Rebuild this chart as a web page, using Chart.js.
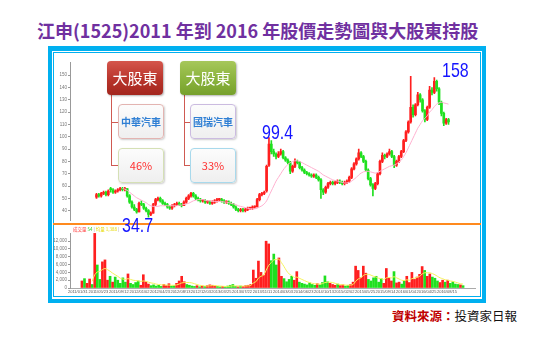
<!DOCTYPE html>
<html>
<head>
<meta charset="utf-8">
<title>江申(1525)股價走勢圖</title>
<script src="https://cdn.jsdelivr.net/npm/chart.js@4.4.1/dist/chart.umd.min.js"></script>
<style>
  body { margin:0; width:542px; height:344px; overflow:hidden; background:#fff; position:relative;
         font-family:"Noto Sans CJK TC","Noto Sans",sans-serif; }
  .abs { position:absolute; }
  #title { left:37px; top:19px; font-size:18px; line-height:22px; color:#7030a0; font-weight:bold; white-space:nowrap; }
  #frame { left:48px; top:46px; width:438px; height:257px; box-sizing:border-box; border:4px solid #00b0f0; border-top-width:5px; }
  #inner { left:53px; top:52px; width:428px; height:245px; box-sizing:border-box; border:1px solid #00b0f0; }
  canvas { position:absolute; }
  #sep { left:53px; top:223px; width:428px; height:2px; background:#ff8a1e; }
  .head { width:56px; height:34px; border-radius:4px; color:#fff; font-size:15px; line-height:34px; text-align:center; box-shadow:1px 1px 2px rgba(0,0,0,.3); }
  .red { background:linear-gradient(#d4564c,#b8342b 55%,#a3261e); }
  .green { background:linear-gradient(#a6c75a,#8ab33d 55%,#76a02c); }
  .card { width:46px; height:35px; box-sizing:border-box; border-radius:4px; background:linear-gradient(#fcfcfc,#efefef); text-align:center; line-height:33px; box-shadow:1px 1px 2px rgba(0,0,0,.2); }
  .name { color:#2f7fd4; font-size:10px; font-weight:bold; }
  .pct { color:#ff3030; font-size:11px; }
  .ln { background:#cf5a52; }
  .big { font-family:"Liberation Sans","DejaVu Sans",sans-serif; font-size:21px; color:#1414ff; line-height:21px;
         transform:scaleX(0.76); transform-origin:0 0; white-space:nowrap; }
  #src { left:392px; top:308px; font-size:12.5px; line-height:16px; white-space:nowrap; }
</style>
</head>
<body>
<div id="title" class="abs">江申(1525)2011 年到 2016 年股價走勢圖與大股東持股</div>
<div id="frame" class="abs"></div>
<div id="inner" class="abs"></div>
<canvas id="priceChart" width="428" height="173" style="left:53px;top:51px"></canvas>
<canvas id="volChart" width="428" height="74" style="left:53px;top:224px"></canvas>
<div id="sep" class="abs"></div>

<!-- 大股東 -->
<div class="abs ln" style="left:111px;top:95px;width:1px;height:70px"></div>
<div class="abs ln" style="left:111px;top:122px;width:7px;height:1px"></div>
<div class="abs ln" style="left:111px;top:165px;width:7px;height:1px"></div>
<div class="abs ln" style="left:184px;top:95px;width:1px;height:70px"></div>
<div class="abs ln" style="left:184px;top:122px;width:6px;height:1px"></div>
<div class="abs ln" style="left:184px;top:165px;width:6px;height:1px"></div>
<div class="abs head red" style="left:107px;top:61px">大股東</div>
<div class="abs head green" style="left:180px;top:61px">大股東</div>
<div class="abs card name" style="left:118px;top:104px;border:1px solid #e3b4b1">中華汽車</div>
<div class="abs card pct" style="left:118px;top:148px;border:1px solid #d5e0b5">46%</div>
<div class="abs card name" style="left:190px;top:104px;border:1px solid #cbbbe0">國瑞汽車</div>
<div class="abs card pct" style="left:190px;top:148px;border:1px solid #a8d9ec">33%</div>

<div class="abs big" style="left:262px;top:121px">99.4</div>
<div class="abs big" style="left:442px;top:59px">158</div>
<div class="abs big" style="left:122px;top:214px">34.7</div>

<div id="src" class="abs"><span style="color:#c00000;font-weight:bold">資料來源：</span><span style="color:#111">投資家日報</span></div>

<script>
// 江申 股價 (雙週 K 線)
const opens = [51,53,52,54,55,53,58,57,55,56, 57,58,57,58,52,47,43,41,39,46, 45,42,40,37,38,45,49,50,48,46,
  45,43,42,44,45,46,45,44,47,50, 52,54,52,50,49,48,48,47,47,46, 47,48,49,49,48,47,47,46,45,43,
  41,40,41,40,41,42,42,43,43,49, 53,54,56,77,94,88,86,84,86,88, 83,81,79,72,76,80,79,75,73,71,
  70,69,68,69,67,65,57,55,59,62, 63,62,63,64,63,62,63,64,67,74, 78,82,87,84,80,73,66,61,58,62,
  70,80,85,84,86,88,84,77,80,84, 88,97,104,112,124,118,126,134,130,121, 114,124,138,136,145,139,128,119,111,114];
const highs = [54,54,55,56,56,57,59,58,57,58, 59,59,59,58,53,48,45,42,47,48, 46,43,41,39,46,50,51,51,49,47,
  46,44,45,46,47,47,46,48,51,53, 55,55,53,51,50,49,49,48,48,48, 49,50,50,50,49,48,48,47,46,44,
  42,42,42,42,43,43,44,44,50,54, 55,56,77,99.4,97,90,87,88,90,89, 84,82,80,77,82,81,80,76,74,72,
  71,70,70,70,68,66,58,60,63,64, 64,64,65,65,64,64,65,68,75,79, 83,90,88,85,81,74,67,62,63,71,
  81,87,86,87,90,89,85,81,85,89, 98,105,113,149,126,127,136,135,131,122, 125,141,140,148,146,140,129,120,115,115];
const lows = [50,51,51,53,52,52,55,54,54,55, 56,56,56,51,46,42,40,38,39,44, 41,39,34.7,36,38,44,48,47,45,44,
  42,41,41,43,44,44,43,44,46,49, 51,51,49,48,47,47,46,46,45,45, 46,47,48,47,46,46,45,44,42,40,
  39,39,39,39,40,41,41,42,43,48, 52,53,55,76,86,84,82,83,85,82, 80,78,70,71,75,78,74,72,70,69,
  68,67,67,66,64,50,53,54,58,61, 61,61,62,62,61,61,62,63,66,73, 77,81,83,79,72,65,60,52,57,61,
  69,79,82,83,85,83,75,76,79,83, 87,96,103,111,116,117,125,128,120,112, 113,123,134,135,137,126,117,109,110,110];
const closes = [53,52,54,55,53,56,57,55,56,57, 58,57,58,52,47,43,41,39,46,45, 42,40,37,38,45,49,50,48,46,45,
  43,42,44,45,46,45,44,47,50,52, 54,52,50,49,48,48,47,47,46,47, 48,49,49,48,47,47,46,45,43,41,
  40,41,40,41,42,42,43,43,49,53, 54,55,76,94,88,86,84,86,88,83, 81,79,72,76,80,79,75,73,71,70,
  69,68,69,67,65,57,55,59,62,63, 62,63,64,63,62,63,64,67,74,78, 82,87,84,80,73,66,61,58,62,70,
  80,85,84,86,88,84,77,80,84,88, 97,104,112,124,118,126,134,130,121,114, 124,138,136,145,139,128,119,111,114,112];
// 均線 (粉紅)
const maLine = [null,null,null,null,null,null,null,null,null,null, null,58,57.5,56.5,55,53.5,52,50.5,49.5,48.5,
  47.5,46.5,45,44,43.5,43.5,43.5,44,44,44, 44,44,44,44,44,44.5,44.5,45,45.5,46,
  47,48,48.5,49,49,49,48.5,48,48,47.5, 47.5,47.5,47.5,47.5,47,47,46.5,46,45.5,45,
  44,43.5,43,42.5,42,41.5,41.5,41.5,42,43, 44,45.5,48,52,56,60,64,67,70,73,
  75.5,77.5,79,80,80.5,80.5,80,79,78,77, 76,75,74,73,72,70.5,69,68,67,66,
  65,64.5,64,63.5,63,62.5,62.5,63,64,65.5, 67,69,70.5,71.5,72,72,71.5,71,70.5,71,
  72,73,74,75,76,76.5,77,78,79.5,81, 84,87,91,95,99,103,107,110,113,115,
  117,120,122,124.5,126.5,127.5,128,127.5,127,126.5];
// 成交量
const volumes = [1800,2400,1200,2300,900,14000,5900,2200,6700,7200, 2000,3000,1500,2800,2000,1200,2600,1500,3600,1200,
  900,1400,1800,700,3400,1600,1000,600,800,500, 700,400,900,600,1100,500,600,1200,1800,3000,
  1600,900,700,500,400,600,300,500,400,600, 800,700,500,400,300,400,300,500,700,900,
  400,300,500,400,600,700,900,4600,2500,6900, 4000,3200,12000,11300,7000,8700,5900,7700,3000,2400,
  1600,2200,3000,2000,4200,1500,1200,1000,800,1300, 900,700,1100,800,1400,3100,1600,1200,900,700,
  1000,600,800,500,700,900,1500,5600,4500,2600, 5600,3800,2200,1800,2600,3000,1500,2400,1200,5000,
  2500,1800,4200,1300,1500,1000,1800,3000,1400,4000, 2200,2800,3500,5500,4500,3000,3600,2800,2500,1800,
  1400,2000,1500,2000,1200,1600,1000,900,800,600];
// 均量 (黃)
const volMa = [null,null,null,null,1700,3400,4100,4300,4700,5000, 4700,4300,3800,3400,3000,2500,2300,2200,2400,2200,
  2000,1900,1800,1700,1800,1700,1500,1300,1200,1000, 900,800,800,750,750,700,700,800,1000,1300,
  1400,1400,1400,1300,1100,900,700,600,500,500, 550,600,600,550,500,450,400,420,480,550,
  550,520,500,480,500,550,650,1300,1600,2500, 3000,3300,4500,5800,6500,7200,7300,7400,6500,5500,
  4400,3600,3200,2700,2800,2500,2200,1900,1600,1400, 1200,1100,1000,1000,1100,1400,1500,1500,1400,1200,
  1000,900,800,750,700,750,900,1700,2300,2600, 3200,3500,3500,3300,3000,2800,2500,2400,2200,2600,
  2700,2600,2900,2600,2300,2000,1900,2100,2000,2400, 2500,2700,3000,3600,3900,3900,3900,3700,3400,3000,
  2600,2400,2100,2000,1800,1700,1500,1300,1100,1000];

const priceTicks = [40,50,60,70,80,90,100,110,120,130,140,150];
const volTicks = [0,2000,4000,6000,8000,10000,12000];
const dateTickPos = [-1.6,6.4,14.4,22.5,30.5,38.5,46.5,54.5,62.6,70.6,78.6,86.6,94.6,102.6,110.7,118.7,126.7,134.7,142.7];
const dateLabels = ["2011/01/31","2011/05/23","2011/09/12","2012/01/02","2012/04/23","2012/08/13","2012/12/03",
  "2013/03/25","2013/07/22","2013/11/11","2014/03/03","2014/06/23","2014/10/13","2015/02/02","2015/05/25",
  "2015/09/14","2016/01/04","2016/04/25","2016/08/15"];

const UP = "#ff1f1f";
const DOWN = "#1fe01f";
const candleColors = closes.map((c, i) => (c >= opens[i] ? UP : DOWN));

const bodies = closes.map((c, i) => ({ x: i, y: [opens[i], c] }));
const wicks = closes.map((c, i) => ({ x: i, y: [lows[i], highs[i]] }));

const xRange = { type: "linear", min: -0.5, max: closes.length - 0.5 };

new Chart(document.getElementById("priceChart"), {
  type: "bar",
  data: {
    datasets: [
      {
        type: "line",
        data: maLine.map((v, i) => ({ x: i, y: v })),
        borderColor: "#ffb0cf",
        borderWidth: 1,
        pointRadius: 0,
        tension: 0.3,
        order: 0,
      },
      { data: wicks, backgroundColor: candleColors, barThickness: 1, grouped: false, order: 2 },
      { data: bodies, backgroundColor: candleColors, barThickness: 2, minBarLength: 1, grouped: false, order: 1 },
    ],
  },
  options: {
    responsive: false,
    animation: false,
    layout: { padding: { top: 11, bottom: 2, right: 6, left: 0 } },
    plugins: { legend: { display: false }, tooltip: { enabled: false } },
    scales: {
      x: { ...xRange, display: false },
      y: {
        min: 32.2,
        max: 160.7,
        afterBuildTicks: (s) => { s.ticks = priceTicks.map((v) => ({ value: v })); },
        afterFit: (s) => { s.width = 17; },
        ticks: { font: { size: 4.5 }, color: "#777", padding: 1 },
        grid: { drawOnChartArea: false, tickLength: 2, color: "#999" },
        border: { color: "#999" },
      },
    },
  },
});

// 成交量圖例
const volLegend = {
  id: "volLegend",
  afterDraw(chart) {
    const ctx = chart.ctx;
    ctx.save();
    ctx.font = "4.5px 'Noto Sans CJK TC', sans-serif";
    ctx.textBaseline = "middle";
    let x = 20;
    const parts = [["成交量 ", "#ff3b3b"], ["54 ", "#22cc22"], ["| ", "#999"], ["均量 1,388 ", "#e6d800"], ["|", "#999"]];
    parts.forEach(([t, c]) => {
      ctx.fillStyle = c;
      ctx.fillText(t, x, 5);
      x += ctx.measureText(t).width;
    });
    ctx.restore();
  },
};

new Chart(document.getElementById("volChart"), {
  type: "bar",
  data: {
    datasets: [
      {
        type: "line",
        data: volMa.map((v, i) => ({ x: i, y: v })),
        borderColor: "#f5f25a",
        borderWidth: 1,
        pointRadius: 0,
        tension: 0.3,
        order: 0,
      },
      {
        data: volumes.map((v, i) => ({ x: i, y: v })),
        backgroundColor: candleColors,
        barThickness: 2,
        grouped: false,
        order: 1,
      },
    ],
  },
  options: {
    responsive: false,
    animation: false,
    layout: { padding: { top: 9, bottom: 0, right: 6, left: 0 } },
    plugins: { legend: { display: false }, tooltip: { enabled: false } },
    scales: {
      x: {
        ...xRange,
        afterBuildTicks: (s) => { s.ticks = dateTickPos.map((v) => ({ value: v })); },
        afterFit: (s) => { s.height = 10; },
        ticks: {
          autoSkip: false,
          maxRotation: 0,
          font: { size: 4 },
          color: "#555",
          padding: 1,
          callback: (v, i) => dateLabels[i],
        },
        grid: { display: false, drawTicks: false },
        border: { display: true, color: "#aaa" },
      },
      y: {
        min: 0,
        max: 14100,
        afterBuildTicks: (s) => { s.ticks = volTicks.map((v) => ({ value: v })); },
        afterFit: (s) => { s.width = 17; },
        ticks: { font: { size: 4.5 }, color: "#777", padding: 1, callback: (v) => v.toLocaleString("en-US") },
        grid: { drawOnChartArea: false, tickLength: 2, color: "#999" },
        border: { color: "#999" },
      },
    },
  },
  plugins: [volLegend],
});
</script>
</body>
</html>
